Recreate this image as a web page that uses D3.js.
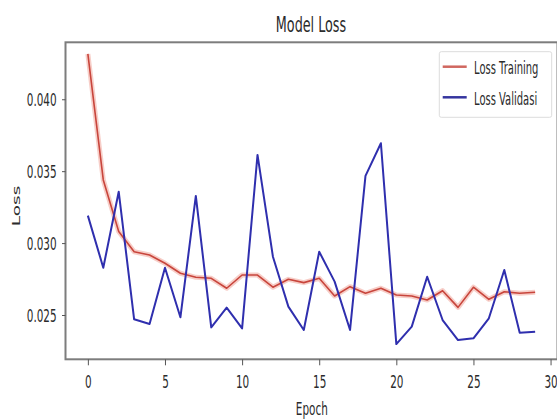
<!DOCTYPE html>
<html>
<head>
<meta charset="utf-8">
<script src="https://cdn.jsdelivr.net/npm/d3@7"></script>
<style>
  body { margin: 0; background: #fff; }
  svg text { font-family: "DejaVu Sans", sans-serif; fill: #2b2b2b; }
</style>
</head>
<body>
<svg id="chart" width="557" height="419"></svg>
<script>
// values
const epochs = [0, 1, 2, 3, 4, 5, 6, 7, 8, 9, 10, 11, 12, 13, 14, 15, 16, 17, 18, 19, 20, 21, 22, 23, 24, 25, 26, 27, 28, 29];
const lossTraining = [0.04315, 0.03439, 0.03080, 0.02940, 0.02917, 0.02860, 0.02790, 0.02762, 0.02755, 0.02686,
                      0.02778, 0.02778, 0.02693, 0.02748, 0.02725, 0.02755, 0.02632, 0.02697, 0.02651, 0.02686,
                      0.02639, 0.02632, 0.02604, 0.02669, 0.02553, 0.02693, 0.02609, 0.02662, 0.02651, 0.02658];
const lossValidasi = [0.03191, 0.02829, 0.03357, 0.02470, 0.02437, 0.02829, 0.02484, 0.03328, 0.02414, 0.02551,
                      0.02407, 0.03613, 0.02905, 0.02558, 0.02396, 0.02940, 0.02732, 0.02396, 0.03467, 0.03694,
                      0.02298, 0.02419, 0.02766, 0.02465, 0.02326, 0.02338, 0.02477, 0.02813, 0.02377, 0.02384];
const xTicks = [0, 5, 10, 15, 20, 25, 30];
const yTicks = [0.025, 0.030, 0.035, 0.040];
const seriesNames = ["Loss Training", "Loss Validasi"];

const squish = 0.58; // the picture is narrowed horizontally, so is its text

let plotLeft = 65.5, plotRight = 557.5, plotTop = 42.3, plotBottom = 359.3;

const svg = d3.select("#chart");

const x = d3.scaleLinear()
    .domain([-1.45, 30.45])
    .range([plotLeft, plotRight]);

const y = d3.scaleLinear()
    .domain([0.02192, 0.04396])
    .range([plotBottom, plotTop]);

// frame
svg.append("rect")
    .attr("x", plotLeft)
    .attr("y", plotTop)
    .attr("width", plotRight - plotLeft)
    .attr("height", plotBottom - plotTop)
    .attr("fill", "none")
    .attr("stroke", "#7d7d7d")
    .attr("stroke-width", 2);

// X axis
const xAxis = svg.append("g")
    .attr("transform", `translate(0, ${plotBottom})`)
    .call(d3.axisBottom(x).tickValues(xTicks).tickSize(6).tickSizeOuter(0).tickFormat(d3.format("d")));
xAxis.select(".domain").remove();
xAxis.selectAll("line").attr("stroke", "#555");
xAxis.selectAll("text")
    .attr("y", 28.7)
    .attr("dy", 0)
    .attr("font-size", "18px")
    .attr("transform", `scale(${squish},1)`);

// Y axis
const yAxis = svg.append("g")
    .attr("transform", `translate(${plotLeft}, 0)`)
    .call(d3.axisLeft(y).tickValues(yTicks).tickSize(3.5).tickSizeOuter(0).tickFormat(d3.format(".3f")));
yAxis.select(".domain").remove();
yAxis.selectAll("line").attr("stroke", "#555");
yAxis.selectAll("text")
    .attr("x", -8.9 / squish)
    .attr("dy", "0.36em")
    .attr("font-size", "18px")
    .attr("transform", `scale(${squish},1)`);

// title and axis labels
svg.append("text")
    .attr("transform", `translate(311, 31.7) scale(${squish},1)`)
    .attr("text-anchor", "middle")
    .attr("font-size", "22px")
    .text("Model Loss");

svg.append("text")
    .attr("transform", `translate(311.8, 414.7) scale(${squish},1)`)
    .attr("text-anchor", "middle")
    .attr("font-size", "18px")
    .text("Epoch");

svg.append("text")
    .attr("transform", `translate(19.5, 206) scale(${squish},1) rotate(-90)`)
    .attr("text-anchor", "middle")
    .attr("font-size", "18.5px")
    .text("Loss");

// lines
const line = d3.line()
    .x((d, i) => x(epochs[i]))
    .y(d => y(d));

// soft halo round the training line
svg.append("path")
    .datum(lossTraining)
    .attr("d", line)
    .attr("fill", "none")
    .attr("stroke", "#f3b9b0")
    .attr("stroke-width", 5)
    .attr("stroke-linejoin", "round")
    .attr("opacity", 0.7);

svg.append("path")
    .datum(lossTraining)
    .attr("d", line)
    .attr("fill", "none")
    .attr("stroke", "#c8453c")
    .attr("stroke-width", 1.6)
    .attr("stroke-linejoin", "round");

svg.append("path")
    .datum(lossValidasi)
    .attr("d", line)
    .attr("fill", "none")
    .attr("stroke", "#2f2fae")
    .attr("stroke-width", 2)
    .attr("stroke-linejoin", "round");

// legend
const legend = svg.append("g")
    .attr("transform", "translate(439.3, 51.7)");

legend.append("rect")
    .attr("width", 112.4)
    .attr("height", 65.6)
    .attr("rx", 2)
    .attr("fill", "#fff")
    .attr("stroke", "#dcdcdc")
    .attr("stroke-width", 1);

const legendColors = ["#d0675f", "#35359f"];
seriesNames.forEach((name, i) => {
    const rowY = 15 + i * 30.6;
    legend.append("line")
        .attr("x1", 3.4)
        .attr("x2", 27.4)
        .attr("y1", rowY)
        .attr("y2", rowY)
        .attr("stroke", legendColors[i])
        .attr("stroke-width", 2.5);
    legend.append("text")
        .attr("transform", `translate(34.7, ${rowY + 7.5}) scale(${squish * 0.93},1)`)
        .attr("font-size", "18.5px")
        .text(name);
});
</script>
</body>
</html>
